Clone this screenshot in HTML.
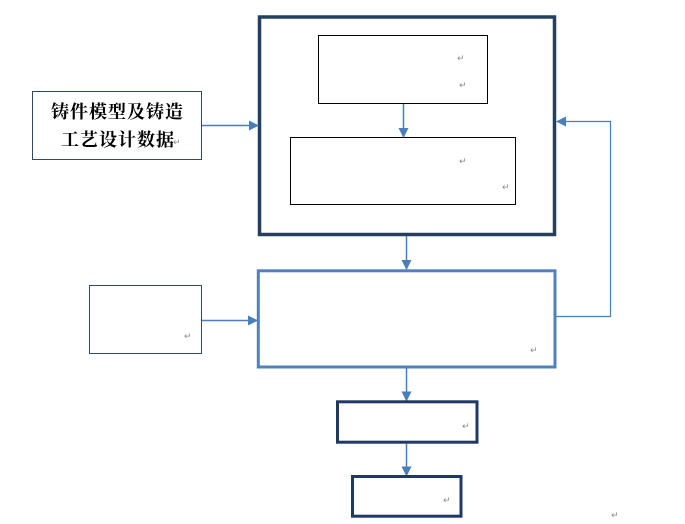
<!DOCTYPE html>
<html><head><meta charset="utf-8"><style>
html,body{margin:0;padding:0;background:#fff;}
svg{display:block;}
.t{font-family:"Liberation Serif","Noto Serif CJK SC",serif;font-weight:bold;font-size:18px;fill:#000;letter-spacing:1px;}
.r{font-family:"Liberation Sans","DejaVu Sans",sans-serif;font-size:9px;fill:#888;}
</style></head><body>
<svg width="685" height="524" viewBox="0 0 685 524" xmlns="http://www.w3.org/2000/svg">
<defs>
<marker id="a" markerWidth="10" markerHeight="10" refX="9" refY="5" orient="auto" markerUnits="userSpaceOnUse">
<path d="M0,0 L10,5 L0,10 z" fill="#4a7ebb"/>
</marker>
</defs>
<!-- big outer box -->
<rect x="259.5" y="17" width="295" height="217.5" fill="none" stroke="#243f60" stroke-width="3.5"/>
<!-- inner boxes -->
<rect x="318.5" y="35.5" width="169" height="68" fill="none" stroke="#000" stroke-width="1"/>
<rect x="290.5" y="137.5" width="225" height="67" fill="none" stroke="#000" stroke-width="1"/>
<text class="r" x="457" y="61">↵</text>
<text class="r" x="459" y="88">↵</text>
<text class="r" x="459" y="164">↵</text>
<text class="r" x="502" y="190">↵</text>
<line x1="403.5" y1="104" x2="403.5" y2="137" stroke="#4a7ebb" stroke-width="1.5" marker-end="url(#a)"/>
<!-- left data box -->
<rect x="32.5" y="91.5" width="169" height="68" fill="none" stroke="#2f4a63" stroke-width="1"/>
<text class="t" x="51" y="118">铸件模型及铸造</text>
<text class="t" x="61" y="146">工艺设计数据</text>
<text class="r" x="173" y="145">↵</text>
<line x1="202" y1="125.5" x2="258" y2="125.5" stroke="#4a7ebb" stroke-width="1.5" marker-end="url(#a)"/>
<!-- arrow big->middle -->
<line x1="406.5" y1="236" x2="406.5" y2="269" stroke="#4a7ebb" stroke-width="1.5" marker-end="url(#a)"/>
<!-- middle box -->
<rect x="258.3" y="270.8" width="296.7" height="96.2" fill="none" stroke="#4f81bd" stroke-width="3"/>
<text class="r" x="530" y="353">↵</text>
<!-- small left box -->
<rect x="89.5" y="285.5" width="112" height="68" fill="none" stroke="#2f4a63" stroke-width="1"/>
<text class="r" x="184" y="339">↵</text>
<line x1="202" y1="320.5" x2="257" y2="320.5" stroke="#4a7ebb" stroke-width="1.5" marker-end="url(#a)"/>
<!-- feedback -->
<polyline points="556.5,316.5 610.5,316.5 610.5,121.5 557,121.5" fill="none" stroke="#4a7ebb" stroke-width="1.2" marker-end="url(#a)"/>
<!-- arrow middle -> box3 -->
<line x1="406.5" y1="368.5" x2="406.5" y2="400.5" stroke="#4a7ebb" stroke-width="1.5" marker-end="url(#a)"/>
<rect x="337.5" y="401.8" width="139.5" height="40.4" fill="none" stroke="#1f3864" stroke-width="3"/>
<text class="r" x="462" y="429">↵</text>
<line x1="406.5" y1="443.5" x2="406.5" y2="475.5" stroke="#4a7ebb" stroke-width="1.5" marker-end="url(#a)"/>
<rect x="352.5" y="476.5" width="108.5" height="39.7" fill="none" stroke="#1f3864" stroke-width="3"/>
<text class="r" x="443" y="503">↵</text>
<text class="r" x="611" y="518">↵</text>
</svg>
</body></html>
